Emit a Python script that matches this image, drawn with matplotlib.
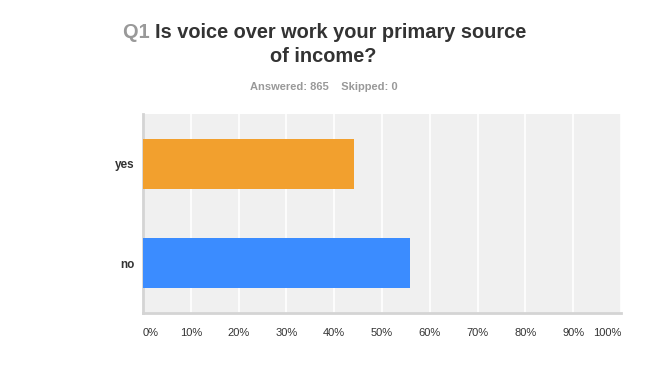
import matplotlib
matplotlib.use("Agg")
import matplotlib.pyplot as plt
import numpy as np

# survey answers
categories = ["yes", "no"]
percents = [44.2, 55.8]
bar_colors = ["#f2a02e", "#3b8cff"]
tick_vals = [0, 10, 20, 30, 40, 50, 60, 70, 80, 90, 100]
tick_labels = ["%d%%" % v for v in tick_vals]

plt.rcParams['font.family'] = ['Liberation Sans', 'DejaVu Sans']

W, H = 650, 384
fig = plt.figure(figsize=(W / 100, H / 100), dpi=100)
fig.patch.set_facecolor("white")

# plot area in pixels
left, right, top, bottom = 143, 621, 114, 313
ax = fig.add_axes([left / W, 1 - bottom / H, (right - left) / W, (bottom - top) / H])
ax.set_facecolor("#f0f0f0")

ypos = np.arange(len(categories))
ax.barh(ypos, percents, height=0.5, color=bar_colors, zorder=3)
ax.set_ylim(1.5, -0.5)
ax.set_xlim(0, 100)

ax.set_yticks(ypos)
ax.set_yticklabels(categories, fontsize=8.5, fontweight="bold", color="#333333")
ax.set_xticks(tick_vals)
ax.set_xticklabels(tick_labels, fontsize=8, color="#333333")
lbls = ax.get_xticklabels()
lbls[0].set_ha("left")
lbls[-1].set_ha("right")
ax.tick_params(axis="both", length=0)
ax.tick_params(axis="x", pad=10.5)
ax.tick_params(axis="y", pad=6)

ax.grid(axis="x", color="white", linewidth=1.2, zorder=1)
for s in ["top", "right"]:
    ax.spines[s].set_visible(False)
for s in ["left", "bottom"]:
    ax.spines[s].set_color("#d4d4d4")
    ax.spines[s].set_linewidth(2)

# title, with gray question number
renderer = fig.canvas.get_renderer()
cx = 325 / W
y1 = 1 - 33 / H
t_q = fig.text(0, y1, "Q1 ", fontsize=14.4, fontweight="bold", color="#999999", va="center")
t_rest = fig.text(0, y1, "Is voice over work your primary source", fontsize=14.4,
                  fontweight="bold", color="#333333", va="center")
w_q = t_q.get_window_extent(renderer).width / W
w_r = t_rest.get_window_extent(renderer).width / W
x0 = cx - (w_q + w_r) / 2
t_q.set_x(x0)
t_rest.set_x(x0 + w_q)
fig.text(323 / W, 1 - 56 / H, "of income?", fontsize=14.4, fontweight="bold",
         color="#333333", ha="center", va="center")
fig.text(324 / W, 1 - 87 / H, "Answered: 865    Skipped: 0", fontsize=8,
         fontweight="bold", color="#999999", ha="center", va="center")

fig.savefig("out.png", dpi=100)
